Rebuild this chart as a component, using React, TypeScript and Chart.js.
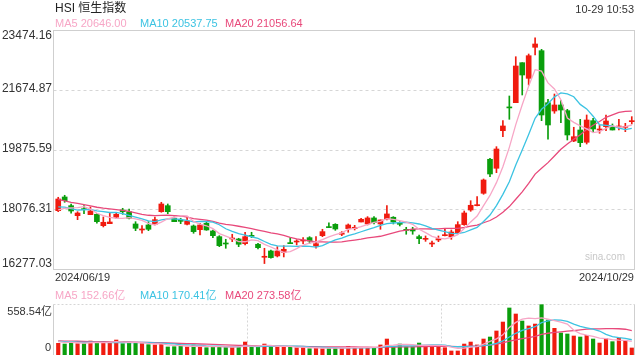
import React, { useEffect, useRef } from "react";
import { Chart, registerables } from "chart.js";
Chart.register(...registerables);

// ---------- data ----------
const dates = [
  "2024/06/19","2024/06/20","2024/06/21","2024/06/24","2024/06/25","2024/06/26","2024/06/27","2024/06/28",
  "2024/07/02","2024/07/03","2024/07/04","2024/07/05","2024/07/08","2024/07/09","2024/07/10","2024/07/11","2024/07/12",
  "2024/07/15","2024/07/16","2024/07/17","2024/07/18","2024/07/19","2024/07/22","2024/07/23","2024/07/24","2024/07/25",
  "2024/07/26","2024/07/29","2024/07/30","2024/07/31",
  "2024/08/01","2024/08/02","2024/08/05","2024/08/06","2024/08/07","2024/08/08","2024/08/09","2024/08/12","2024/08/13",
  "2024/08/14","2024/08/15","2024/08/16","2024/08/19","2024/08/20","2024/08/21","2024/08/22","2024/08/23","2024/08/26",
  "2024/08/27","2024/08/28","2024/08/29","2024/08/30",
  "2024/09/02","2024/09/03","2024/09/04","2024/09/05","2024/09/09","2024/09/10","2024/09/11","2024/09/12","2024/09/13",
  "2024/09/16","2024/09/17","2024/09/19","2024/09/20","2024/09/23","2024/09/24","2024/09/25","2024/09/26","2024/09/27",
  "2024/09/30",
  "2024/10/02","2024/10/03","2024/10/04","2024/10/07","2024/10/08","2024/10/09","2024/10/10","2024/10/14","2024/10/15",
  "2024/10/16","2024/10/17","2024/10/18","2024/10/21","2024/10/22","2024/10/23","2024/10/24","2024/10/25","2024/10/28",
  "2024/10/29",
];

const opens = [
  18033,18446,18184,17883,18084,17913,17925,17581,17642,17835,
  18054,18003,17633,17452,17603,17623,18003,18184,17805,17733,
  17623,17573,17462,17654,17422,17251,17050,17181,17181,17040,
  17281,17022,16630,16820,16670,16781,17050,17090,17120,17221,
  16970,17281,17533,17623,17323,17493,17493,17693,17633,17814,
  17633,17784,17835,17643,17462,17473,17251,17171,17030,17151,
  17281,17251,17372,17613,18054,18184,18557,19581,19310,20442,
  21158,21285,22490,22019,22953,22851,21285,21035,21216,21045,
  20132,20463,20093,20743,20463,20563,20563,20553,20543,20714,
];
const highs = [
  18437,18497,18235,18003,18184,18144,17943,17844,17964,17964,
  18105,18084,17702,17581,17702,17844,18286,18235,17844,17805,
  17835,17603,17654,17684,17452,17281,17172,17323,17202,17383,
  17383,17050,16901,16850,16950,16980,17221,17160,17221,17251,
  17251,17473,17664,17642,17402,17633,17593,17805,17854,17854,
  17754,18184,17854,17702,17533,17533,17302,17272,17120,17272,
  17503,17452,17702,18024,18334,18455,18988,19611,19961,20743,
  21487,22670,22490,22751,23242,22893,21387,21547,21345,21086,
  20545,20785,20915,20815,20614,20915,20644,20785,20664,20865,
];
const lows = [
  18003,18286,17955,17763,17943,17913,17654,17543,17642,17793,
  17925,17784,17432,17353,17432,17603,17985,17943,17702,17642,
  17603,17353,17302,17442,17221,16950,16901,17100,16950,17001,
  17221,16880,16441,16600,16640,16640,17040,17001,17040,17050,
  16901,17251,17523,17442,17281,17383,17452,17693,17603,17633,
  17473,17754,17633,17573,17323,17323,17040,17110,16950,17100,
  17272,17171,17353,17593,18014,18174,18527,19058,19178,20261,
  20785,21285,21517,21818,22722,20743,20183,20966,20683,20162,
  20112,19961,20041,20412,20364,20442,20463,20463,20412,20644,
];
const closes = [
  18385,18334,18024,17964,18064,18024,17702,17684,17693,17925,
  18003,17805,17503,17473,17473,17763,18235,18003,17702,17713,
  17723,17402,17603,17452,17281,16980,17030,17202,17022,17251,
  17261,16919,16650,16620,16820,16871,17040,17110,17150,17120,
  17040,17402,17523,17482,17362,17603,17533,17774,17814,17674,
  17754,17935,17693,17623,17442,17422,17191,17191,17050,17191,
  17311,17392,17613,17964,18196,18204,18958,19138,19891,20584,
  21128,22390,22119,22700,23053,20915,20614,21216,21065,20313,
  20261,20081,20764,20493,20483,20734,20463,20573,20563,20734,
];
// turnover, 亿
const volumes = [
  128,120,150,124,124,153,142,131,139,164,
  124,135,135,124,113,110,124,88,91,102,
  88,110,88,80,91,95,88,84,84,142,
  88,88,120,84,91,91,88,80,80,69,
  80,69,77,77,80,95,80,80,80,80,
  110,175,91,120,91,91,131,106,106,91,
  80,44,44,120,142,110,175,197,263,361,
  515,449,372,318,339,551,383,292,241,230,
  208,197,215,175,131,179,146,186,157,77,
];
// sessions before the first visible one (feed the moving averages)
const priorCloses = [
  19195,18868,18609,18827,18821,18477,18230,18080,18403,18444,
  18425,18476,18366,17977,17937,18112,17942,17936,17915,
];
const priorVolumes = [
  170,160,150,165,175,155,168,150,158,162,
  150,155,160,150,140,158,145,150,150,
];

const maPeriods = [5, 10, 20];
const maNames = ["MA5", "MA10", "MA20"];
const priceLegendValues = ["20646.00", "20537.75", "21056.64"];
const volumeLegendValues = ["152.66亿", "170.41亿", "273.58亿"];
const priceTicks = [16277.03, 18076.31, 19875.59, 21674.87, 23474.16];
const priceTickLabels = ["16277.03", "18076.31", "19875.59", "21674.87", "23474.16"];
const volumeMax = 558.54;
const volumeTickLabels = ["0", "558.54亿"];
const title = "HSI 恒生指数";
const timestamp = "10-29 10:53";

// ---------- styles ----------
const UP = "#f01b0f";
const DOWN = "#0a9e0c";
const MA_COLORS = ["#f7a6c6", "#3cc3e2", "#e8497b"];
const GRID = "#d6d6d6";
const FRAME = "#cfcfcf";
const TEXT = "#333333";
const FONT = 'Arial, "Liberation Sans", "Noto Sans CJK SC", sans-serif';

function movingAverage(prior: number[], values: number[], n: number): number[] {
  const all = prior.concat(values);
  const off = prior.length;
  return values.map((_, i) => {
    const end = off + i;
    const start = Math.max(0, end - n + 1);
    let s = 0;
    for (let k = start; k <= end; k++) s += all[k];
    return s / (end - start + 1);
  });
}

const candleColors = closes.map((c, i) => (c >= opens[i] ? UP : DOWN));

const priceFrame = {
  id: "priceFrame",
  beforeDatasetsDraw(chart: any) {
    const { ctx, chartArea: a, scales } = chart;
    const y = scales.y;
    const L = a.left - 1.5;
    const R = a.right - 0.5;
    ctx.save();
    ctx.lineWidth = 1;
    ctx.strokeStyle = GRID;
    ctx.setLineDash([3, 3]);
    priceTicks.slice(1, -1).forEach((v) => {
      const py = Math.round(y.getPixelForValue(v)) + 0.5;
      ctx.beginPath();
      ctx.moveTo(L, py);
      ctx.lineTo(R, py);
      ctx.stroke();
    });
    ctx.setLineDash([]);
    ctx.strokeStyle = FRAME;
    const T = Math.round(a.top) + 0.5;
    const B = Math.round(a.bottom) + 0.5;
    ctx.strokeRect(L, T, R - L, B - T);
    ctx.fillStyle = TEXT;
    ctx.font = "12px " + FONT;
    ctx.textAlign = "right";
    ctx.textBaseline = "middle";
    priceTicks.forEach((v, i) => {
      let py = y.getPixelForValue(v) - 1;
      py = Math.min(Math.max(py, a.top + 5.5), a.bottom - 5);
      ctx.fillText(priceTickLabels[i], 52, py);
    });
    ctx.restore();
  },
};

const volumeFrame = {
  id: "volumeFrame",
  beforeDatasetsDraw(chart: any) {
    const { ctx, chartArea: a } = chart;
    const L = a.left - 1.5;
    const R = a.right - 0.5;
    const T = Math.round(a.top) + 0.5;
    const B = a.bottom;
    ctx.save();
    ctx.lineWidth = 1;
    ctx.strokeStyle = GRID;
    ctx.setLineDash([2, 2]);
    ctx.beginPath();
    ctx.moveTo(L, T);
    ctx.lineTo(R, T);
    ctx.stroke();
    [1, 2].forEach((k) => {
      const x = Math.round(L + ((R - L) * k) / 3) + 0.5;
      ctx.beginPath();
      ctx.moveTo(x, T);
      ctx.lineTo(x, B);
      ctx.stroke();
    });
    ctx.setLineDash([]);
    ctx.strokeStyle = FRAME;
    ctx.beginPath();
    ctx.moveTo(L, T);
    ctx.lineTo(L, B);
    ctx.moveTo(R, T);
    ctx.lineTo(R, B);
    ctx.stroke();
    ctx.fillStyle = TEXT;
    ctx.font = "11px " + FONT;
    ctx.textAlign = "right";
    ctx.textBaseline = "middle";
    ctx.fillText(volumeTickLabels[1], 52, a.top + 8);
    ctx.fillText(volumeTickLabels[0], 51, a.bottom - 7);
    ctx.restore();
  },
};

function Text(props: { x: number; y: number; right?: boolean; color?: string; size?: number; children: any }) {
  const { x, y, right, color, size, children } = props;
  const s: any = {
    position: "absolute",
    top: y - 7,
    lineHeight: "14px",
    height: 14,
    whiteSpace: "nowrap",
    fontSize: size || 11,
    color: color || TEXT,
    fontFamily: FONT,
  };
  if (right) s.right = 640 - x;
  else s.left = x;
  return <div style={s}>{children}</div>;
}

export default function App() {
  const priceRef = useRef<HTMLCanvasElement>(null);
  const volRef = useRef<HTMLCanvasElement>(null);

  useEffect(() => {
    const priceMA = maPeriods.map((n) => movingAverage(priorCloses, closes, n));
    const volMA = maPeriods.map((n) => movingAverage(priorVolumes, volumes, n));
    const bodies = opens.map((o, i) => [o, closes[i]]);
    const wicks = lows.map((l, i) => [l, highs[i]]);

    const lineSets = (arr: number[][]) =>
      arr.map((d, k) => ({
        type: "line" as const,
        data: d,
        borderColor: MA_COLORS[k],
        borderWidth: 1.3,
        pointRadius: 0,
        tension: 0,
        fill: false,
        order: 1,
      }));

    const pc = new Chart(priceRef.current!, {
      type: "bar",
      data: {
        labels: dates,
        datasets: [
          ...lineSets(priceMA),
          {
            type: "bar",
            data: bodies as any,
            backgroundColor: candleColors,
            barThickness: 5,
            grouped: false,
            minBarLength: 1,
            order: 2,
          },
          {
            type: "bar",
            data: wicks as any,
            backgroundColor: candleColors,
            barThickness: 1,
            grouped: false,
            order: 3,
          },
        ] as any,
      },
      options: {
        responsive: false,
        animation: false,
        layout: { padding: { left: 55, right: 5, top: 30, bottom: 11 } },
        plugins: { legend: { display: false }, tooltip: { enabled: false } },
        scales: {
          x: { display: false, offset: true },
          y: { display: false, min: priceTicks[0], max: priceTicks[priceTicks.length - 1] },
        },
      },
      plugins: [priceFrame],
    });

    const vc = new Chart(volRef.current!, {
      type: "bar",
      data: {
        labels: dates,
        datasets: [
          ...lineSets(volMA),
          {
            type: "bar",
            data: volumes,
            backgroundColor: candleColors,
            barThickness: 3.5,
            grouped: false,
            order: 2,
          },
        ] as any,
      },
      options: {
        responsive: false,
        animation: false,
        layout: { padding: { left: 55, right: 5, top: 24, bottom: 5 } },
        plugins: { legend: { display: false }, tooltip: { enabled: false } },
        scales: {
          x: { display: false, offset: true },
          y: { display: false, min: 0, max: volumeMax },
        },
      },
      plugins: [volumeFrame],
    });

    return () => {
      pc.destroy();
      vc.destroy();
    };
  }, []);

  const legendX = [55, 140, 225];

  return (
    <div style={{ position: "absolute", left: 0, top: 0, width: 640, height: 360, background: "#fff", overflow: "hidden" }}>
      <canvas ref={priceRef} width={640} height={280} style={{ position: "absolute", left: 0, top: 0 }} />
      <canvas ref={volRef} width={640} height={80} style={{ position: "absolute", left: 0, top: 280 }} />
      <Text x={55} y={8} size={12} color="#222">{title}</Text>
      <Text x={634} y={8.5} right>{timestamp}</Text>
      {maNames.map((n, k) => (
        <Text key={"p" + k} x={legendX[k]} y={23} color={MA_COLORS[k]}>{n + " " + priceLegendValues[k]}</Text>
      ))}
      <Text x={625} y={257} right size={10} color="#c8c8c8">sina.com</Text>
      <Text x={55} y={277}>{dates[0]}</Text>
      <Text x={634} y={277} right>{dates[dates.length - 1]}</Text>
      {maNames.map((n, k) => (
        <Text key={"v" + k} x={legendX[k]} y={295} color={MA_COLORS[k]}>{n + " " + volumeLegendValues[k]}</Text>
      ))}
    </div>
  );
}
